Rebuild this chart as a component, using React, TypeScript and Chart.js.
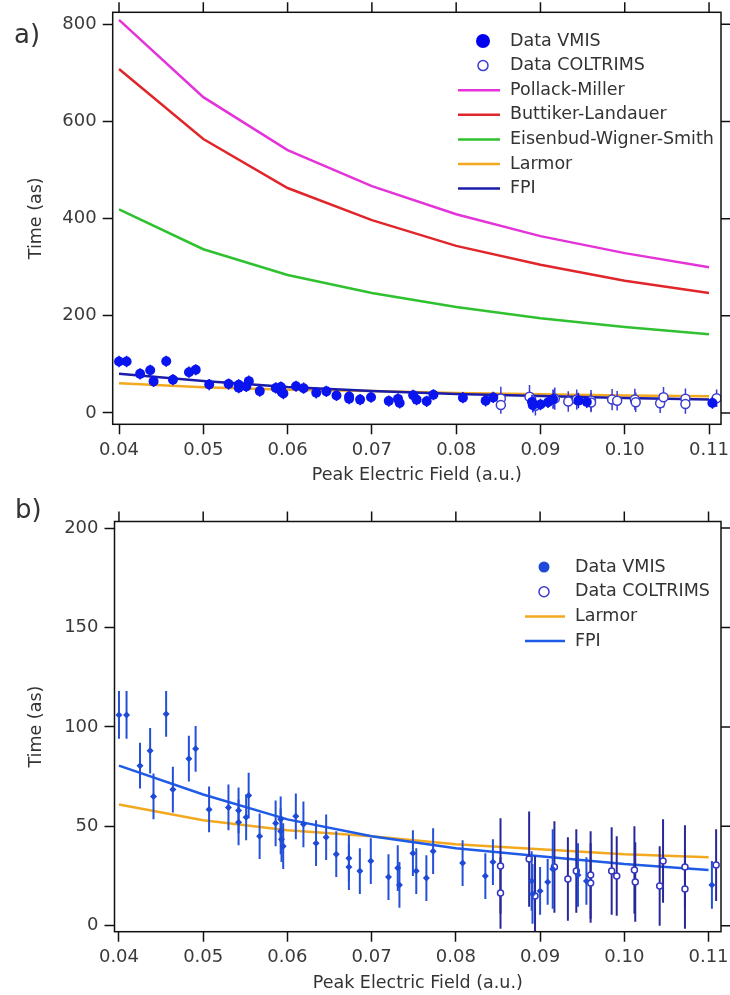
import React, { useEffect, useRef } from "react";
import { Chart, registerables } from "chart.js";

Chart.register(...registerables);

const FONT = '"DejaVu Sans", Verdana, sans-serif';

// ---- tick labels ----
const xTickValues = [0.04, 0.05, 0.06, 0.07, 0.08, 0.09, 0.1, 0.11];
const yTickValuesA = [0, 200, 400, 600, 800];
const yTickValuesB = [0, 50, 100, 150, 200];

// ---- model curves ----
const modelField = [0.04, 0.05, 0.06, 0.07, 0.08, 0.09, 0.1, 0.11];
const pollackMiller = [809, 650, 541, 467, 409, 364, 329, 300];
const buttikerLandauer = [708, 564, 463, 397, 344, 305, 272, 247];
const eisenbudWignerSmith = [419, 337, 284, 247, 218, 195, 177, 162];
const larmor = [61, 53, 48, 45, 41, 38.5, 36, 34.5];
const fpi = [80.5, 66, 53.5, 45, 39, 35, 31, 28];

// ---- measured data: VMIS ----
const vmisField = [
  0.04, 0.0409, 0.0425, 0.0437, 0.0441, 0.0456, 0.0464, 0.0483, 0.0491, 0.0507,
  0.053, 0.0542, 0.0542, 0.0551, 0.0554, 0.0567, 0.0586, 0.0592, 0.0592, 0.0593,
  0.0595, 0.061, 0.0619, 0.0634, 0.0646, 0.0658, 0.0673, 0.0673, 0.0686, 0.0699,
  0.072, 0.0731, 0.0733, 0.0749, 0.0753, 0.0765, 0.0773, 0.0808, 0.0835, 0.0844,
  0.089, 0.0891, 0.09, 0.0909, 0.0915, 0.0945, 0.0955, 0.1104,
];
const vmisTime = [
  106, 106, 80.5, 88, 65, 106.5, 68.5, 84, 89, 58.5,
  59.5, 58, 52, 54.5, 65.5, 45, 51.5, 53.5, 47.5, 43.5,
  40, 55, 51, 41.5, 44.5, 36, 34, 29.5, 27.5, 32.5,
  24.5, 29, 20.5, 36.5, 27.5, 24, 37.5, 31.5, 25, 32,
  22.5, 16, 17.5, 22, 28.5, 25.5, 22.5, 20.5,
];
const vmisError = [
  12, 12, 11.5, 11.5, 11.5, 11.5, 11.5, 11.5, 11.5, 11.5,
  11.5, 11.5, 11.5, 11.5, 11.5, 11.5, 11.5, 11.5, 11.5, 11.5,
  11.5, 11.5, 11.5, 11.5, 11.5, 11.5, 11.5, 11.5, 11.5, 11.5,
  11.5, 11.5, 11.5, 11.5, 11.5, 11.5, 11.5, 11.5, 11.5, 11.5,
  15, 15, 12, 11.5, 20, 16, 12, 12,
];

// ---- measured data: COLTRIMS ----
const coltField = [
  0.0853, 0.0853, 0.0887, 0.0894, 0.0917, 0.0933, 0.0943, 0.096, 0.096,
  0.0985, 0.0991, 0.1012, 0.1013, 0.1042, 0.1046, 0.1072, 0.1072, 0.1109,
];
const coltTime = [
  30, 16.5, 33.5, 15, 29.5, 23.5, 27.5, 25.5, 21.5,
  27.5, 25, 28, 22, 20, 32.5, 29.5, 18.5, 30.5,
];
const coltError = [
  24, 18, 24, 20, 23, 21, 21, 22, 20,
  22, 20, 22, 20, 20, 21, 21, 20, 18,
];

const toPts = (xs: number[], ys: number[]) => xs.map((x, i) => ({ x, y: ys[i] }));

type LegendItem = { label: string; kind: "dot" | "open" | "line"; color: string };

type PanelCfg = {
  height: number;
  yMin: number;
  yMax: number;
  xMin: number;
  xMax: number;
  yTicks: number[];
  yAxisWidth: number;
  xAxisHeight: number;
  padTop: number;
  xTitlePad: number;
  label: string;
  labelX: number;
  labelY: number;
  legend: LegendItem[];
  legendGeom: {
    y0: number; step: number; markX: number; dotR: number; openR: number;
    lineX0: number; lineX1: number; textX: number;
  };
  datasets: any[];
};

const errorBarPlugin = {
  id: "errorBars",
  beforeDatasetDraw(chart: any, args: any) {
    const ds = chart.data.datasets[args.index];
    if (!ds.errors) return;
    const { ctx, chartArea } = chart;
    const xs = chart.scales.x;
    const ys = chart.scales.y;
    ctx.save();
    ctx.beginPath();
    ctx.rect(chartArea.left, chartArea.top, chartArea.right - chartArea.left, chartArea.bottom - chartArea.top);
    ctx.clip();
    ctx.strokeStyle = ds.errorColor;
    ctx.lineWidth = ds.errorWidth;
    ds.data.forEach((p: any, i: number) => {
      const e = ds.errors[i];
      const px = xs.getPixelForValue(p.x);
      ctx.beginPath();
      ctx.moveTo(px, ys.getPixelForValue(p.y - e));
      ctx.lineTo(px, ys.getPixelForValue(p.y + e));
      ctx.stroke();
    });
    ctx.restore();
  },
};

function makeDecor(cfg: PanelCfg) {
  return {
    id: "decor",
    afterDraw(chart: any) {
      const { ctx, chartArea: a } = chart;
      const xs = chart.scales.x;
      const ys = chart.scales.y;
      ctx.save();
      ctx.strokeStyle = "#111";
      ctx.lineWidth = 1.5;
      ctx.strokeRect(a.left, a.top, a.right - a.left, a.bottom - a.top);
      ctx.beginPath();
      xTickValues.forEach((v) => {
        const px = xs.getPixelForValue(v);
        ctx.moveTo(px, a.top);
        ctx.lineTo(px, a.top - 10);
      });
      cfg.yTicks.forEach((v) => {
        const py = ys.getPixelForValue(v);
        ctx.moveTo(a.right, py);
        ctx.lineTo(a.right + 10, py);
      });
      ctx.stroke();

      // panel label
      ctx.fillStyle = "#333";
      ctx.font = `26px ${FONT}`;
      ctx.textAlign = "left";
      ctx.textBaseline = "alphabetic";
      ctx.fillText(cfg.label, cfg.labelX, cfg.labelY);

      // legend
      const g = cfg.legendGeom;
      ctx.font = `17.5px ${FONT}`;
      ctx.textBaseline = "middle";
      cfg.legend.forEach((it, i) => {
        const y = g.y0 + i * g.step;
        if (it.kind === "dot") {
          ctx.fillStyle = it.color;
          ctx.beginPath();
          ctx.arc(g.markX, y, g.dotR, 0, Math.PI * 2);
          ctx.fill();
        } else if (it.kind === "open") {
          ctx.fillStyle = "#fff";
          ctx.strokeStyle = it.color;
          ctx.lineWidth = 1.5;
          ctx.beginPath();
          ctx.arc(g.markX, y, g.openR, 0, Math.PI * 2);
          ctx.fill();
          ctx.stroke();
        } else {
          ctx.strokeStyle = it.color;
          ctx.lineWidth = 2.5;
          ctx.beginPath();
          ctx.moveTo(g.lineX0, y);
          ctx.lineTo(g.lineX1, y);
          ctx.stroke();
        }
        ctx.fillStyle = "#333";
        ctx.fillText(it.label, g.textX, y);
      });
      ctx.restore();
    },
  };
}

function buildConfig(cfg: PanelCfg): any {
  const tickFont = { family: FONT, size: 18 };
  const titleFont = { family: FONT, size: 17.5 };
  const grid = {
    drawOnChartArea: false,
    drawTicks: true,
    tickLength: 10,
    tickWidth: 1.5,
    tickColor: "#111",
  };
  return {
    data: { datasets: cfg.datasets },
    options: {
      responsive: false,
      animation: false,
      events: [],
      layout: { padding: { top: cfg.padTop, right: 9, left: 0, bottom: 0 } },
      plugins: { legend: { display: false }, tooltip: { enabled: false } },
      scales: {
        x: {
          type: "linear",
          min: cfg.xMin,
          max: cfg.xMax,
          afterBuildTicks: (s: any) => {
            s.ticks = xTickValues.map((v) => ({ value: v }));
          },
          afterFit: (s: any) => {
            s.height = cfg.xAxisHeight;
            s.paddingLeft = 0;
            s.paddingRight = 0;
          },
          ticks: {
            callback: (v: any) => Number(v).toFixed(2),
            font: tickFont,
            color: "#3a3a3a",
            padding: 5,
            maxRotation: 0,
            autoSkip: false,
          },
          grid,
          border: { display: false },
          title: {
            display: true,
            text: "Peak Electric Field (a.u.)",
            font: titleFont,
            color: "#333",
            padding: { top: 0, bottom: cfg.xTitlePad },
          },
        },
        y: {
          type: "linear",
          min: cfg.yMin,
          max: cfg.yMax,
          afterBuildTicks: (s: any) => {
            s.ticks = cfg.yTicks.map((v) => ({ value: v }));
          },
          afterFit: (s: any) => {
            s.width = cfg.yAxisWidth;
            s.paddingTop = 0;
            s.paddingBottom = 0;
          },
          ticks: { font: tickFont, color: "#3a3a3a", padding: 6 },
          grid,
          border: { display: false },
          title: {
            display: true,
            text: "Time (as)",
            font: titleFont,
            color: "#333",
            padding: { top: 25.5, bottom: 0 },
          },
        },
      },
    },
    plugins: [errorBarPlugin, makeDecor(cfg)],
  };
}

function lineDs(label: string, xs: number[], ys: number[], color: string, width: number) {
  return {
    type: "line",
    label,
    data: toPts(xs, ys),
    borderColor: color,
    backgroundColor: color,
    borderWidth: width,
    pointRadius: 0,
    tension: 0,
    fill: false,
  };
}

const panelA: PanelCfg = {
  height: 490,
  yMin: -23.3,
  yMax: 824.7,
  xMin: 0.03925,
  xMax: 0.11142,
  yTicks: yTickValuesA,
  yAxisWidth: 112.7,
  xAxisHeight: 65.7,
  padTop: 12.3,
  xTitlePad: 3.8,
  label: "a)",
  labelX: 14,
  labelY: 43,
  legend: [
    { label: "Data VMIS", kind: "dot", color: "#0000ee" },
    { label: "Data COLTRIMS", kind: "open", color: "#3c3cd0" },
    { label: "Pollack-Miller", kind: "line", color: "#e433d8" },
    { label: "Buttiker-Landauer", kind: "line", color: "#e0262a" },
    { label: "Eisenbud-Wigner-Smith", kind: "line", color: "#2fc12f" },
    { label: "Larmor", kind: "line", color: "#f3a91f" },
    { label: "FPI", kind: "line", color: "#1c1ca8" },
  ],
  legendGeom: { y0: 41, step: 24.6, markX: 483, dotR: 7, openR: 5, lineX0: 458, lineX1: 500, textX: 510 },
  datasets: [
    {
      type: "scatter",
      label: "Data VMIS",
      data: toPts(vmisField, vmisTime),
      errors: vmisError,
      errorColor: "#0a14ee",
      errorWidth: 1.5,
      pointStyle: "circle",
      pointRadius: 5,
      backgroundColor: "#0a14ee",
      borderColor: "#0a14ee",
      borderWidth: 0,
    },
    {
      type: "scatter",
      label: "Data COLTRIMS",
      data: toPts(coltField, coltTime),
      errors: coltError,
      errorColor: "#3c3cd0",
      errorWidth: 1.5,
      pointStyle: "circle",
      pointRadius: 4.5,
      backgroundColor: "#ffffff",
      borderColor: "#3c3cd0",
      borderWidth: 1.5,
    },
    lineDs("FPI", modelField, fpi, "#1c1ca8", 2.5),
    lineDs("Larmor", modelField, larmor, "#f3a91f", 2.5),
    lineDs("Eisenbud-Wigner-Smith", modelField, eisenbudWignerSmith, "#2fc12f", 2.5),
    lineDs("Buttiker-Landauer", modelField, buttikerLandauer, "#e0262a", 2.5),
    lineDs("Pollack-Miller", modelField, pollackMiller, "#e433d8", 2.5),
  ],
};

const panelB: PanelCfg = {
  height: 505,
  yMin: -3,
  yMax: 203.3,
  xMin: 0.03947,
  xMax: 0.11148,
  yTicks: yTickValuesB,
  yAxisWidth: 114.5,
  xAxisHeight: 63.3,
  padTop: 31.5,
  xTitlePad: 1.3,
  label: "b)",
  labelX: 15,
  labelY: 28,
  legend: [
    { label: "Data VMIS", kind: "dot", color: "#1f4ad8" },
    { label: "Data COLTRIMS", kind: "open", color: "#3c3cd0" },
    { label: "Larmor", kind: "line", color: "#f3a91f" },
    { label: "FPI", kind: "line", color: "#1e5be6" },
  ],
  legendGeom: { y0: 77, step: 24.7, markX: 544, dotR: 5.5, openR: 5, lineX0: 525, lineX1: 565, textX: 575 },
  datasets: [
    {
      type: "scatter",
      label: "Data VMIS",
      data: toPts(vmisField, vmisTime),
      errors: vmisError,
      errorColor: "#2450d8",
      errorWidth: 2,
      pointStyle: "rectRot",
      pointRadius: 3.5,
      backgroundColor: "#1f4ad8",
      borderColor: "#1f4ad8",
      borderWidth: 0,
    },
    {
      type: "scatter",
      label: "Data COLTRIMS",
      data: toPts(coltField, coltTime),
      errors: coltError,
      errorColor: "#28289a",
      errorWidth: 2,
      pointStyle: "circle",
      pointRadius: 3,
      backgroundColor: "#ffffff",
      borderColor: "#3535c0",
      borderWidth: 1.5,
    },
    lineDs("FPI", modelField, fpi, "#1e5be6", 2.5),
    lineDs("Larmor", modelField, larmor, "#f3a91f", 2.5),
  ],
};

export default function App() {
  const refA = useRef<HTMLCanvasElement | null>(null);
  const refB = useRef<HTMLCanvasElement | null>(null);

  useEffect(() => {
    const charts: Chart[] = [];
    if (refA.current) charts.push(new Chart(refA.current, buildConfig(panelA)));
    if (refB.current) charts.push(new Chart(refB.current, buildConfig(panelB)));
    return () => charts.forEach((c) => c.destroy());
  }, []);

  return (
    <div style={{ position: "absolute", left: 0, top: 0, width: 730, height: 995, background: "#fff" }}>
      <canvas
        ref={refA}
        width={730}
        height={panelA.height}
        style={{ position: "absolute", left: 0, top: 0, width: 730, height: panelA.height, display: "block" }}
      />
      <canvas
        ref={refB}
        width={730}
        height={panelB.height}
        style={{ position: "absolute", left: 0, top: 490, width: 730, height: panelB.height, display: "block" }}
      />
    </div>
  );
}
